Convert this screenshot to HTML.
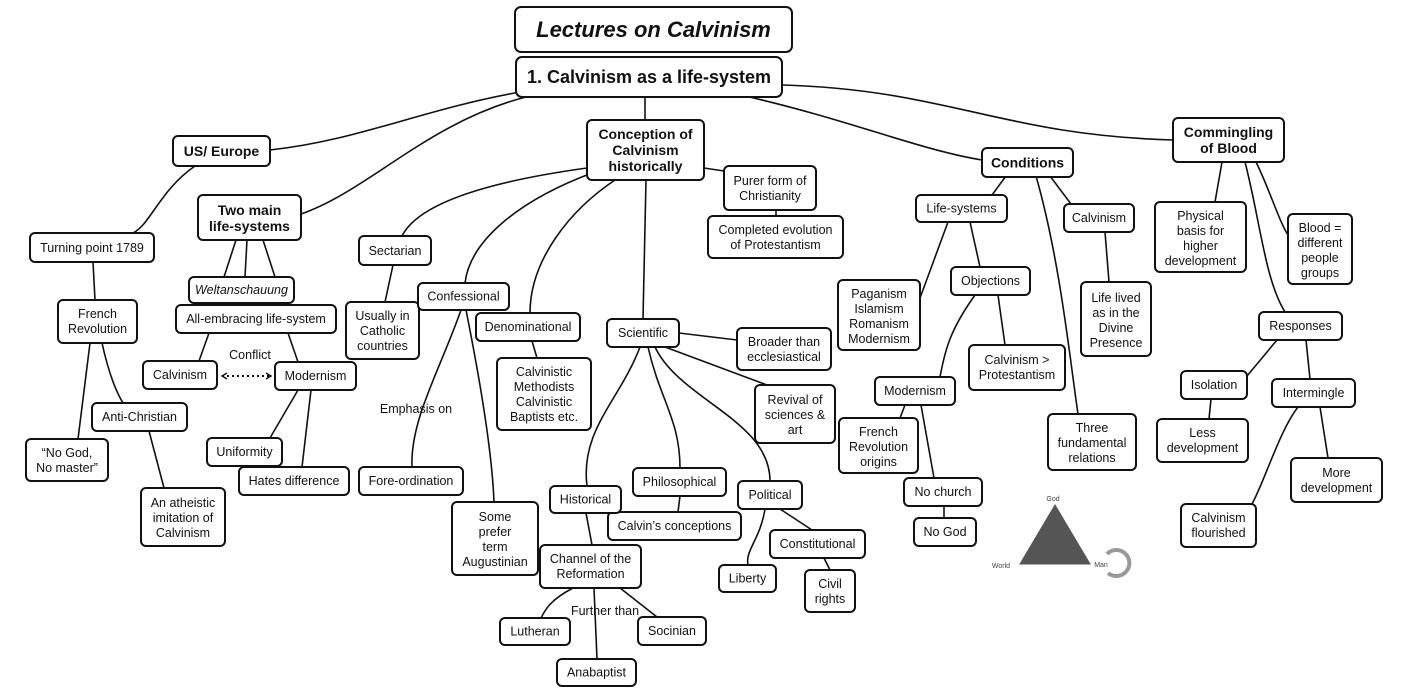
<!DOCTYPE html>
<html><head><meta charset="utf-8"><style>
html,body{margin:0;padding:0;background:#fff;}
svg{display:block;}
text{font-family:"Liberation Sans",Arial,sans-serif;font-size:12.5px;fill:#111;text-anchor:middle;}
.b{font-weight:bold;font-size:14px;}
rect{fill:#fff;stroke:#111;stroke-width:2;}
path,line{fill:none;stroke:#111;stroke-width:1.6;}
</style></head><body>
<svg width="1402" height="692" viewBox="0 0 1402 692" xmlns="http://www.w3.org/2000/svg">
<defs><marker id="ah" markerWidth="8" markerHeight="8" refX="6" refY="4" orient="auto-start-reverse" markerUnits="userSpaceOnUse"><path d="M1,1 L6,4 L1,7" style="stroke:#111;stroke-width:1.4;fill:none"/></marker></defs>
<!-- connectors -->
<path d="M520,92 C420,110 360,140 270,150"/>
<path d="M530,96 C430,120 370,190 301,214"/>
<path d="M645,97 L645,120"/>
<path d="M745,96 C850,120 920,150 982,160"/>
<path d="M782,85 C950,90 1000,135 1173,140"/>
<path d="M195,166 C160,190 150,225 133,233"/>
<path d="M93,262 L95,300"/>
<path d="M90,343 L78,439"/>
<path d="M102,343 C108,370 115,390 123,403"/>
<path d="M149,431 L164,488"/>
<path d="M236,240 L224,277"/><path d="M247,240 L245,277"/><path d="M263,240 L275,277"/>
<path d="M209,333 L199,361"/><path d="M288,333 L298,362"/>
<path d="M298,390 L270,438"/><path d="M311,390 L302,467"/>
<line x1="222" y1="376" x2="271" y2="376" style="stroke-dasharray:2,3;stroke-width:2" marker-end="url(#ah)" marker-start="url(#ah)"/>
<path d="M587,168 C500,180 420,200 402,236"/>
<path d="M393,265 L385,302"/>
<path d="M592,173 C520,200 470,240 465,283"/>
<path d="M615,180 C570,210 530,260 530,313"/>
<path d="M532,341 L537,358"/>
<path d="M461,310 C440,370 410,420 412,467"/>
<path d="M466,310 C480,380 492,450 494,502"/>
<path d="M646,180 L643,319"/>
<path d="M704,168 L724,171"/>
<path d="M776,210 L776,216"/>
<path d="M679,333 L737,340"/>
<path d="M665,347 L767,385"/>
<path d="M655,347 C680,400 770,420 770,481"/>
<path d="M648,347 C660,400 680,420 680,468"/>
<path d="M680,496 L678,512"/>
<path d="M640,347 C620,400 580,430 587,486"/>
<path d="M586,513 L592,545"/>
<path d="M573,588 C550,600 545,610 541,618"/>
<path d="M620,588 L657,617"/>
<path d="M594,588 L597,659"/>
<path d="M765,509 C760,540 745,550 748,565"/>
<path d="M780,509 L812,530"/>
<path d="M824,558 L830,570"/>
<path d="M1006,176 L992,195"/>
<path d="M1050,176 L1071,204"/>
<path d="M1036,176 C1060,260 1070,360 1078,414"/>
<path d="M948,222 L920,298"/>
<path d="M970,222 L980,267"/>
<path d="M975,295 C950,330 945,350 940,377"/>
<path d="M998,295 L1005,345"/>
<path d="M905,405 L900,418"/>
<path d="M921,405 L934,478"/>
<path d="M944,506 L944,518"/>
<path d="M1105,232 L1109,282"/>
<path d="M1222,162 L1215,202"/>
<path d="M1256,162 C1270,190 1280,225 1290,238"/>
<path d="M1245,162 C1260,220 1265,280 1285,312"/>
<path d="M1277,340 L1247,376"/>
<path d="M1306,340 L1310,379"/>
<path d="M1211,399 L1209,419"/>
<path d="M1298,407 C1280,430 1265,480 1252,504"/>
<path d="M1320,407 L1328,458"/>
<!-- nodes -->
<rect x="515" y="7" width="277" height="45" rx="6"/><text x="653.5" y="37" style="font-weight:bold;font-style:italic;font-size:22px">Lectures on Calvinism</text>
<rect x="516" y="57" width="266" height="40" rx="6"/><text x="649" y="83" style="font-weight:bold;font-size:18px">1. Calvinism as a life-system</text>
<rect x="173" y="136" width="97" height="30" rx="5"/><text class="b" x="221.5" y="156">US/ Europe</text>
<rect x="30" y="233" width="124" height="29" rx="5"/><text x="92" y="252">Turning point 1789</text>
<rect x="58" y="300" width="79" height="43" rx="5"/><text x="97.5" y="318">French</text><text x="97.5" y="333">Revolution</text>
<rect x="92" y="403" width="95" height="28" rx="5"/><text x="139.5" y="421">Anti-Christian</text>
<rect x="26" y="439" width="82" height="42" rx="5"/><text x="67" y="457">“No God,</text><text x="67" y="472">No master”</text>
<rect x="141" y="488" width="84" height="58" rx="5"/><text x="183" y="507">An atheistic</text><text x="183" y="522">imitation of</text><text x="183" y="537">Calvinism</text>
<rect x="198" y="195" width="103" height="45" rx="5"/><text class="b" x="249.5" y="215">Two main</text><text class="b" x="249.5" y="231">life-systems</text>
<rect x="189" y="277" width="105" height="26" rx="5"/><text x="241.5" y="294" style="font-style:italic">Weltanschauung</text>
<rect x="176" y="305" width="160" height="28" rx="5"/><text x="256" y="323">All-embracing life-system</text>
<rect x="143" y="361" width="74" height="28" rx="5"/><text x="180" y="379">Calvinism</text>
<rect x="275" y="362" width="81" height="28" rx="5"/><text x="315.5" y="380">Modernism</text>
<text x="250" y="359">Conflict</text>
<rect x="207" y="438" width="75" height="28" rx="5"/><text x="244.5" y="456">Uniformity</text>
<rect x="239" y="467" width="110" height="28" rx="5"/><text x="294" y="485">Hates difference</text>
<rect x="359" y="236" width="72" height="29" rx="5"/><text x="395" y="255">Sectarian</text>
<rect x="346" y="302" width="73" height="57" rx="5"/><text x="382.5" y="320">Usually in</text><text x="382.5" y="335">Catholic</text><text x="382.5" y="350">countries</text>
<text x="416" y="413">Emphasis on</text>
<rect x="359" y="467" width="104" height="28" rx="5"/><text x="411" y="485">Fore-ordination</text>
<rect x="418" y="283" width="91" height="27" rx="5"/><text x="463.5" y="300.5">Confessional</text>
<rect x="452" y="502" width="86" height="73" rx="5"/><text x="495" y="521">Some</text><text x="495" y="536">prefer</text><text x="495" y="551">term</text><text x="495" y="566">Augustinian</text>
<rect x="476" y="313" width="104" height="28" rx="5"/><text x="528" y="331">Denominational</text>
<rect x="497" y="358" width="94" height="72" rx="5"/><text x="544" y="376">Calvinistic</text><text x="544" y="391">Methodists</text><text x="544" y="406">Calvinistic</text><text x="544" y="421">Baptists  etc.</text>
<rect x="587" y="120" width="117" height="60" rx="5"/><text class="b" x="645.5" y="139">Conception of</text><text class="b" x="645.5" y="155">Calvinism</text><text class="b" x="645.5" y="171">historically</text>
<rect x="724" y="166" width="92" height="44" rx="5"/><text x="770" y="185">Purer form of</text><text x="770" y="200">Christianity</text>
<rect x="708" y="216" width="135" height="42" rx="5"/><text x="775.5" y="234">Completed evolution</text><text x="775.5" y="249">of Protestantism</text>
<rect x="607" y="319" width="72" height="28" rx="5"/><text x="643" y="337">Scientific</text>
<rect x="737" y="328" width="94" height="42" rx="5"/><text x="784" y="346">Broader than</text><text x="784" y="361">ecclesiastical</text>
<rect x="755" y="385" width="80" height="58" rx="5"/><text x="795" y="404">Revival of</text><text x="795" y="419">sciences &amp;</text><text x="795" y="434">art</text>
<rect x="633" y="468" width="93" height="28" rx="5"/><text x="679.5" y="486">Philosophical</text>
<rect x="608" y="512" width="133" height="28" rx="5"/><text x="674.5" y="530">Calvin’s conceptions</text>
<rect x="550" y="486" width="71" height="27" rx="5"/><text x="585.5" y="503.5">Historical</text>
<rect x="540" y="545" width="101" height="43" rx="5"/><text x="590.5" y="563">Channel of the</text><text x="590.5" y="578">Reformation</text>
<rect x="738" y="481" width="64" height="28" rx="5"/><text x="770" y="499">Political</text>
<rect x="770" y="530" width="95" height="28" rx="5"/><text x="817.5" y="548">Constitutional</text>
<rect x="719" y="565" width="57" height="27" rx="5"/><text x="747.5" y="582.5">Liberty</text>
<rect x="805" y="570" width="50" height="42" rx="5"/><text x="830" y="588">Civil</text><text x="830" y="603">rights</text>
<text x="605" y="615">Further than</text>
<rect x="500" y="618" width="70" height="27" rx="5"/><text x="535" y="635.5">Lutheran</text>
<rect x="638" y="617" width="68" height="28" rx="5"/><text x="672" y="635">Socinian</text>
<rect x="557" y="659" width="79" height="27" rx="5"/><text x="596.5" y="676.5">Anabaptist</text>
<rect x="982" y="148" width="91" height="29" rx="5"/><text class="b" x="1027.5" y="167.5">Conditions</text>
<rect x="916" y="195" width="91" height="27" rx="5"/><text x="961.5" y="212.5">Life-systems</text>
<rect x="1064" y="204" width="70" height="28" rx="5"/><text x="1099" y="222">Calvinism</text>
<rect x="838" y="280" width="82" height="70" rx="5"/><text x="879" y="298">Paganism</text><text x="879" y="313">Islamism</text><text x="879" y="328">Romanism</text><text x="879" y="343">Modernism</text>
<rect x="951" y="267" width="79" height="28" rx="5"/><text x="990.5" y="285">Objections</text>
<rect x="1081" y="282" width="70" height="74" rx="5"/><text x="1116" y="302">Life lived</text><text x="1116" y="317">as in the</text><text x="1116" y="332">Divine</text><text x="1116" y="347">Presence</text>
<rect x="969" y="345" width="96" height="45" rx="5"/><text x="1017" y="364">Calvinism &gt;</text><text x="1017" y="379">Protestantism</text>
<rect x="875" y="377" width="80" height="28" rx="5"/><text x="915" y="395">Modernism</text>
<rect x="839" y="418" width="79" height="55" rx="5"/><text x="878.5" y="436">French</text><text x="878.5" y="451">Revolution</text><text x="878.5" y="466">origins</text>
<rect x="1048" y="414" width="88" height="56" rx="5"/><text x="1092" y="432">Three</text><text x="1092" y="447">fundamental</text><text x="1092" y="462">relations</text>
<rect x="904" y="478" width="78" height="28" rx="5"/><text x="943" y="496">No church</text>
<rect x="914" y="518" width="62" height="28" rx="5"/><text x="945" y="536">No God</text>
<rect x="1173" y="118" width="111" height="44" rx="5"/><text class="b" x="1228.5" y="137">Commingling</text><text class="b" x="1228.5" y="153">of Blood</text>
<rect x="1155" y="202" width="91" height="70" rx="5"/><text x="1200.5" y="220">Physical</text><text x="1200.5" y="235">basis for</text><text x="1200.5" y="250">higher</text><text x="1200.5" y="265">development</text>
<rect x="1288" y="214" width="64" height="70" rx="5"/><text x="1320" y="232">Blood =</text><text x="1320" y="247">different</text><text x="1320" y="262">people</text><text x="1320" y="277">groups</text>
<rect x="1259" y="312" width="83" height="28" rx="5"/><text x="1300.5" y="330">Responses</text>
<rect x="1181" y="371" width="66" height="28" rx="5"/><text x="1214" y="389">Isolation</text>
<rect x="1272" y="379" width="83" height="28" rx="5"/><text x="1313.5" y="397">Intermingle</text>
<rect x="1157" y="419" width="91" height="43" rx="5"/><text x="1202.5" y="437">Less</text><text x="1202.5" y="452">development</text>
<rect x="1291" y="458" width="91" height="44" rx="5"/><text x="1336.5" y="477">More</text><text x="1336.5" y="492">development</text>
<rect x="1181" y="504" width="75" height="43" rx="5"/><text x="1218.5" y="522">Calvinism</text><text x="1218.5" y="537">flourished</text>
<!-- triangle -->
<polygon points="1055,505 1020,564 1090,564" style="fill:#555;stroke:#555"/>
<text x="1053" y="501" style="font-size:7px;fill:#444">God</text>
<text x="1001" y="568" style="font-size:7px;fill:#444">World</text>
<text x="1101" y="567" style="font-size:7px;fill:#444">Man</text>
<path d="M1107,554 A13,13 0 1,1 1108,573" style="stroke:#999;stroke-width:4"/>
</svg>
</body></html>
